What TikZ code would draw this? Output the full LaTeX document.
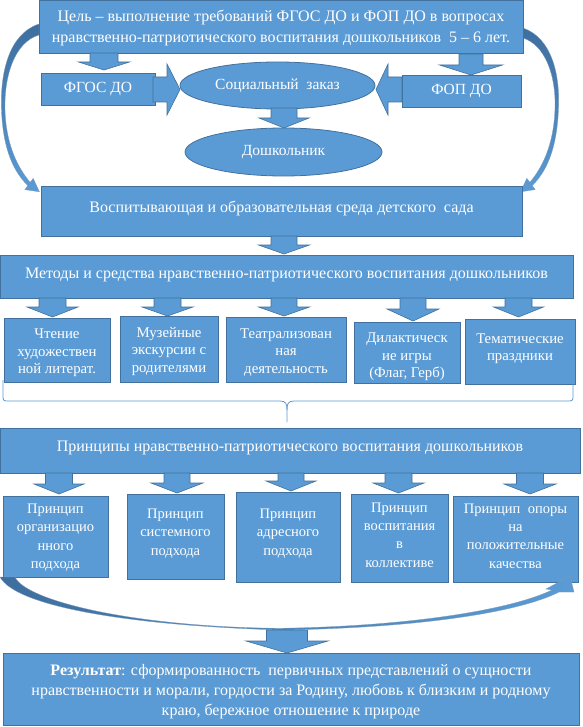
\documentclass[tikz,border=0pt]{standalone}
\usepackage{fontspec}
\setmainfont{Liberation Serif}
\usetikzlibrary{shapes.geometric}
\definecolor{bfill}{HTML}{5B9BD5}
\definecolor{bline}{HTML}{41719C}
\definecolor{cdark}{HTML}{3E6E9E}
\newcommand{\dnarrow}[6]{\filldraw[barrow] ({#1-#5},#2) -- ({#1+#5},#2) -- ({#1+#5},#3) -- ({#1+#6},#3) -- (#1,#4) -- ({#1-#6},#3) -- ({#1-#5},#3) -- cycle;}
\tikzset{
  box/.style={rectangle, fill=bfill, draw=bline, line width=0.8pt, inner sep=0pt},
  oval/.style={ellipse, fill=bfill, draw=bline, line width=0.8pt, text=white, align=center, inner sep=0pt},
  txt/.style={text=white, align=center, inner sep=0pt},
  barrow/.style={fill=bfill, draw=bline, line width=0.6pt},
  ribbon/.style={draw=bline!70, line width=0.3pt},
  bigtxt/.style={txt, font=\fontsize{16}{21}\selectfont},
  ovtxt/.style={font=\fontsize{15.5}{20}\selectfont},
  midtxt/.style={txt, font=\fontsize{14.8}{17.3}\selectfont},
  pritxt/.style={txt, font=\fontsize{14.5}{18.3}\selectfont},
}
\begin{document}
\begin{tikzpicture}[x=1pt,y=-1pt]
\useasboundingbox (0,0) rectangle (582,727);
\fill[white] (0,0) rectangle (582,727);

% curved ribbons (top)
\shade[ribbon, top color=cdark, bottom color=bfill]
  (39,24) .. controls (8,34) and (0,75) .. (1.5,110) .. controls (3,150) and (14,172) .. (27.8,185.6)
  -- (24.8,189.6) -- (39.4,191.8) -- (33.2,178.4) -- (30.2,182.4)
  .. controls (18,168) and (6,145) .. (5,110) .. controls (4,75) and (15,42) .. (39,35) -- cycle;
\shade[ribbon, top color=cdark, bottom color=bfill]
  (523,28) .. controls (552,38) and (560,75) .. (558.5,108) .. controls (557,150) and (546,172) .. (532.2,185.6)
  -- (535.2,189.6) -- (520.6,191.8) -- (526.8,178.4) -- (529.8,182.4)
  .. controls (542,168) and (554,145) .. (555,108) .. controls (556,75) and (545,45) .. (523,38) -- cycle;

% top part
\node[box, minimum width=484, minimum height=53] (goal) at (281,26.5) {};
\node[bigtxt] (goalt) at ([yshift=-1.5pt]goal.center)
  {Цель – выполнение требований ФГОС ДО и ФОП ДО в вопросах\\нравственно-патриотического воспитания дошкольников \ 5 – 6 лет.};
\dnarrow{104}{53}{62}{70}{14}{25.5}
\dnarrow{471}{54}{65}{75}{12}{31.5}
\node[box, ovtxt, text=white, minimum width=114, minimum height=32] (fgos) at (98,89) {ФГОС ДО};
\node[box, ovtxt, text=white, minimum width=119, minimum height=32] (fop) at (461.5,91) {ФОП ДО};
\filldraw[barrow] (153,77) -- (167,77) -- (167,64) -- (180,89.5) -- (167,115) -- (167,102) -- (153,102) -- cycle;
\filldraw[barrow] (402,77) -- (388,77) -- (388,64) -- (376,89.5) -- (388,115) -- (388,102) -- (402,102) -- cycle;
\node[oval, ovtxt, minimum width=195, minimum height=47] (soc) at (277.5,85.5) {Социальный \ заказ};
\dnarrow{284}{108}{118}{128}{13}{25}
\node[oval, ovtxt, minimum width=197, minimum height=48] (dosh) at (283.5,152) {Дошкольник};

% environment
\node[box, minimum width=481, minimum height=50] (env) at (281.5,211) {};
\node[bigtxt] (envt) at ([yshift=3pt]env.center) {Воспитывающая и образовательная среда детского \ сада};
\dnarrow{284}{236}{245}{254}{13}{25.5}
\node[box, minimum width=573, minimum height=43] (meth) at (286.5,276.5) {};
\node[bigtxt] (metht) at ([yshift=2pt]meth.center) {Методы и средства нравственно-патриотического воспитания дошкольников};

\dnarrow{52.5}{298}{307}{317}{13.5}{25.5}
\dnarrow{167.5}{298}{307}{316}{13.5}{25.5}
\dnarrow{284}{298}{307}{316}{13}{25.5}
\dnarrow{413}{298}{309}{321}{13}{26}
\dnarrow{518.5}{298}{307}{317}{13.5}{25}

\node[box, minimum width=106, minimum height=64] (m1) at (57,350) {};
\node[midtxt] (m1t) at ([yshift=-3pt]m1.center) {Чтение\\художествен\\ной литерат.};
\node[box, minimum width=98, minimum height=66] (m2) at (169,349) {};
\node[midtxt] (m2t) at ([yshift=-2.5pt]m2.center) {Музейные\\экскурсии с\\родителями};
\node[box, minimum width=120, minimum height=65] (m3) at (286,349.5) {};
\node[midtxt] (m3t) at ([yshift=-3pt]m3.center) {Театрализован\\ная\\деятельность};
\node[box, minimum width=106, minimum height=61] (m4) at (407,352.5) {};
\node[midtxt] (m4t) at ([yshift=-4.5pt]m4.center) {Дилактическ\\ие игры\\(Флаг, Герб)};
\node[box, minimum width=110, minimum height=65] (m5) at (520,351.5) {};
\node[midtxt] (m5t) at ([yshift=3pt]m5.center) {Тематические\\праздники};

% brace
\draw[bfill, line width=0.8pt] (3,380) -- (3,395) .. controls (3,401) .. (10,401) -- (280,401)
  .. controls (286,401) and (287,404) .. (287,410) -- (287,422);
\draw[bfill, line width=0.8pt] (573,380) -- (573,395) .. controls (573,401) .. (566,401) -- (294,401)
  .. controls (288,401) and (287,404) .. (287,410);

% principles
\node[box, minimum width=580, minimum height=45] (prin) at (290,450.5) {};
\node[bigtxt] (print) at ([yshift=2.5pt]prin.center) {Принципы нравственно-патриотического воспитания дошкольников};
\dnarrow{59}{473}{484}{494}{13.5}{25}
\dnarrow{177}{473}{483}{493}{13}{26}
\dnarrow{291}{473}{481}{491}{13}{25}
\dnarrow{398.5}{473}{483}{493}{13.5}{25.5}
\dnarrow{530}{473}{484}{494}{13.5}{26}

\node[box, minimum width=105, minimum height=81] (p1) at (55.5,536.5) {};
\node[pritxt] (p1t) at ([yshift=-1pt]p1.center) {Принцип\\организацио\\нного\\подхода};
\node[box, minimum width=97, minimum height=85] (p2) at (175.5,536.5) {};
\node[pritxt] (p2t) at ([yshift=3pt]p2.center) {Принцип\\системного\\подхода};
\node[box, minimum width=104, minimum height=90] (p3) at (288,537) {};
\node[pritxt] (p3t) at ([yshift=3.5pt]p3.center) {Принцип\\адресного\\подхода};
\node[box, minimum width=97, minimum height=88] (p4) at (399.5,538) {};
\node[pritxt] (p4t) at ([yshift=3pt]p4.center) {Принцип\\воспитания\\в\\коллективе};
\node[box, minimum width=125, minimum height=86] (p5) at (515.5,539) {};
\node[pritxt] (p5t) at ([yshift=3pt]p5.center) {Принцип \ опоры\\на\\положительные\\качества};

% bottom ribbon
\shade[ribbon, left color=cdark, right color=bfill]
  (0,577) .. controls (15,605) and (120,625) .. (280,630)
  .. controls (420,628) and (520,612) .. (559,592)
  -- (574,592) -- (570,576) -- (546,589) -- (552,590)
  .. controls (515,608) and (420,626) .. (280,628.3)
  .. controls (130,627) and (25,600) .. (15,577) -- cycle;

\dnarrow{287}{630}{641}{653}{20.5}{41}
\node[box, minimum width=576, minimum height=72] (res) at (291,689) {};
\node[txt, font=\fontsize{16}{20}\selectfont] (rest) at ([yshift=-3pt]res.center)
  {\textbf{Результат}: сформированность \ первичных представлений о сущности\\нравственности и морали, гордости за Родину, любовь к близким и родному\\краю, бережное отношение к природе};
\end{tikzpicture}
\end{document}
